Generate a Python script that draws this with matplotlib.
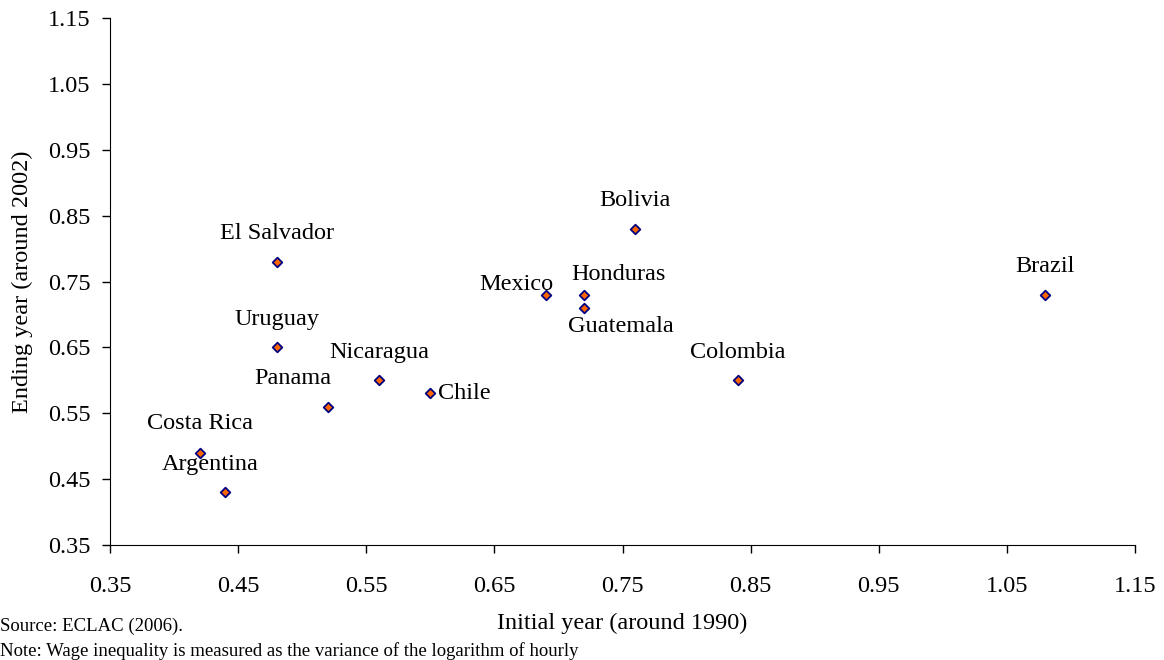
import matplotlib
matplotlib.use("Agg")
import matplotlib.pyplot as plt
from matplotlib.ticker import FixedLocator, FormatStrFormatter

countries = ["Costa Rica", "Argentina", "El Salvador", "Uruguay", "Panama", "Nicaragua",
             "Chile", "Mexico", "Honduras", "Guatemala", "Bolivia", "Colombia", "Brazil"]
initial = [0.42, 0.44, 0.48, 0.48, 0.52, 0.56, 0.60, 0.69, 0.72, 0.72, 0.76, 0.84, 1.08]
ending = [0.49, 0.43, 0.78, 0.65, 0.56, 0.60, 0.58, 0.73, 0.73, 0.71, 0.83, 0.60, 0.73]
ticks = [0.35, 0.45, 0.55, 0.65, 0.75, 0.85, 0.95, 1.05, 1.15]

# label offsets in pixels (dx, dy) and alignment
offsets = {
    "Costa Rica": (0, 29, "center"),
    "Argentina": (-15, 28, "center"),
    "El Salvador": (0, 28, "center"),
    "Uruguay": (0, 28, "center"),
    "Panama": (-35, 28, "center"),
    "Nicaragua": (0, 28, "center"),
    "Chile": (8, 0, "left"),
    "Mexico": (-29, 10, "center"),
    "Honduras": (34, 20, "center"),
    "Guatemala": (37, -19, "center"),
    "Bolivia": (0, 28, "center"),
    "Colombia": (0, 28, "center"),
    "Brazil": (0, 28, "center"),
}

plt.rcParams["font.family"] = ["Liberation Serif", "DejaVu Serif"]
FS = 17.5

fig = plt.figure(figsize=(11.64, 6.6), dpi=100)
ax = fig.add_axes([110 / 1164, 1 - 545 / 660, (1135 - 110) / 1164, (545 - 18) / 660])

ax.scatter(initial, ending, marker="D", s=24, facecolor="#FF6600", edgecolor="#000080",
           linewidth=1.3, zorder=3)
for c, x, y in zip(countries, initial, ending):
    dx, dy, ha = offsets[c]
    ax.annotate(c, (x, y), xytext=(dx, dy), textcoords="offset pixels",
                ha=ha, va="center", fontsize=FS)

ax.set_xlim(0.35, 1.15)
ax.set_ylim(0.35, 1.15)
ax.xaxis.set_major_locator(FixedLocator(ticks))
ax.yaxis.set_major_locator(FixedLocator(ticks))
ax.xaxis.set_major_formatter(FormatStrFormatter("%.2f"))
ax.yaxis.set_major_formatter(FormatStrFormatter("%.2f"))
ax.spines["top"].set_visible(False)
ax.spines["right"].set_visible(False)
ax.tick_params(direction="out", length=6, width=1, labelsize=FS)
ax.tick_params(axis="y", pad=8)
ax.tick_params(axis="x", pad=16)
ax.set_xlabel("Initial year (around 1990)", fontsize=FS, labelpad=12)
ax.set_ylabel("Ending year (around 2002)", fontsize=FS, labelpad=11)

fig.text(0 / 1164, 1 - 626 / 660, "Source: ECLAC (2006).", fontsize=13.5, va="center", ha="left")
fig.text(0 / 1164, 1 - 651 / 660,
         "Note: Wage inequality is measured as the variance of the logarithm of hourly",
         fontsize=13.5, va="center", ha="left")

fig.savefig("out.png", dpi=100)
